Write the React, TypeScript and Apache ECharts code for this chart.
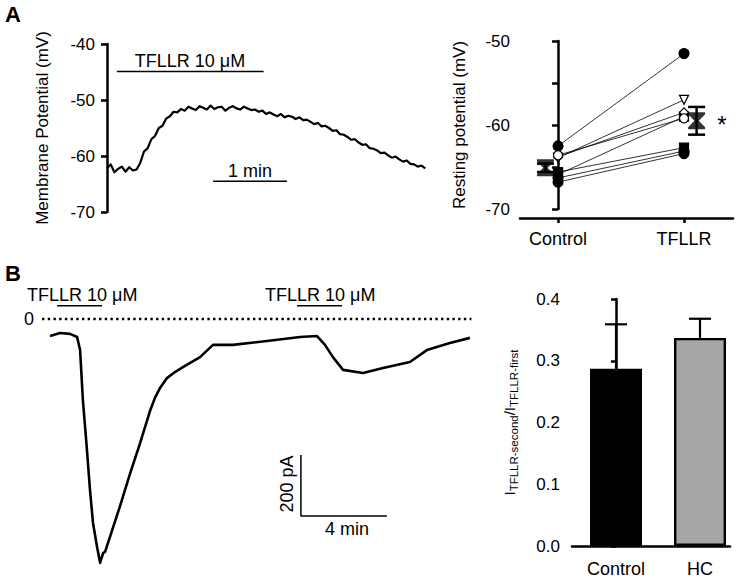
import React, { useEffect, useRef } from 'react';
import * as echarts from 'echarts';

const FONT = '"Liberation Sans", Arial, Helvetica, sans-serif';
const BLACK = '#000000';

// ---------- Panel A (left): membrane potential trace ----------
const traceATime = [
  0, 3, 6, 9, 12, 15, 18, 21, 24, 27, 30, 33, 36, 39, 42, 45, 48, 51, 54, 57,
  60, 63, 66, 69, 72, 75, 78, 81, 84, 87, 90, 93, 96, 99, 102, 105, 108, 111, 114, 117,
  120, 123, 126, 129, 132, 135, 138, 141, 144, 147, 150, 153, 156, 159, 162, 165, 168, 171, 174, 177,
  180, 183, 186, 189, 192, 195, 198, 201, 204, 207, 210, 213, 216, 219, 222, 225, 228, 231, 234, 237,
  240, 243, 246, 249, 252, 255, 258,
];
const traceAPotential = [
  -62.2, -61.5, -62.9, -62.3, -61.9, -62.8, -62.0, -62.6, -62.4,
  -61.2, -59.2, -58.6, -57.0, -56.4, -55.0, -54.6, -53.3, -52.9, -52.1, -52.2,
  -51.6, -51.9, -51.2, -51.5, -51.8, -51.1, -51.4, -51.7, -51.0, -51.6,
  -51.3, -51.2, -51.9, -51.4, -51.1, -51.5, -51.7, -51.2, -51.5, -51.8,
  -51.7, -52.1, -51.9, -52.5, -52.2, -52.6, -52.9, -52.5, -53.1, -52.8,
  -53.0, -53.4, -53.1, -53.6, -53.5, -53.9, -54.3, -54.1, -54.7, -54.6,
  -55.0, -55.5, -55.4, -56.1, -56.2, -56.6, -57.1, -57.0, -57.6, -58.0,
  -57.9, -58.6, -58.7, -59.0, -59.5, -59.4, -59.9, -60.3, -60.1, -60.6,
  -61.0, -60.8, -61.4, -61.5, -61.9, -61.7, -62.2,
];
const applicationA = [8, 127]; // s, TFLLR 10 µM bar
const applicationALevel = -44.9; // mV (bar height)
const scaleBarA = [86, 146]; // s, 1 min
const scaleBarALevel = -64.5;

// ---------- Panel A (right): resting potential pairs ----------
const pairCategories = ['Control', 'TFLLR'];
const subjectControl = [-62.5, -65.9, -63.9, -63.8, -63.6, -65.6, -66.3, -66.8];
const subjectTFLLR = [-51.5, -59.0, -57.0, -58.5, -59.2, -62.7, -63.1, -63.4];
const subjectSymbols = ['circle', 'rect', 'triangle', 'diamond', 'circle', 'rect', 'circle', 'circle'];
const subjectFilled = [true, true, false, false, false, true, true, true];
const meanPositions = [-0.1, 1.1];
const meanValues = [-65.1, -59.5];
const semValues = [0.5, 1.65];

// ---------- Panel B (left): current trace ----------
const traceBTime = [
  0, 0.47, 0.93, 1.26, 1.4, 1.53, 1.72, 1.86, 2.0, 2.19, 2.33, 2.47, 2.56, 2.79, 3.26, 3.72,
  4.19, 4.65, 4.88, 5.12, 5.44, 5.81, 6.28, 6.98, 7.58, 8.51, 10.09, 11.63, 12.42, 12.79, 13.16,
  13.63, 14.56, 15.49, 16.74, 17.53, 18.6, 19.53,
];
const traceBCurrent = [
  -56, -46, -49, -59, -102, -266, -430, -561, -669, -748, -800, -768, -764, -715, -613, -508,
  -407, -302, -259, -226, -194, -174, -154, -125, -85, -85, -72, -59, -56, -85, -125,
  -167, -177, -161, -141, -102, -79, -62,
];
const zeroLineB = [-0.37, 19.6];
const applicationsB = [
  [0.33, 2.42],
  [11.49, 13.58],
];
const applicationBLevel = 43; // pA
const scaleBarB = { t: 11.67, i: -646, dt: 4, di: 200 };

// ---------- Panel B (right): ratio bars ----------
const barCategories = ['Control', 'HC'];
const barValues = [0.287, 0.337];
const barErrors = [0.072, 0.031];
const barColors = ['#000000', '#a6a6a6'];

const hourglass = 'path://M0,0 L10,0 L10,1.2 L6.3,5 L10,8.8 L10,10 L0,10 L0,8.8 L3.7,5 L0,1.2 Z';

function errorBarRender(capHalf: number, lw: number, bottomCap: boolean) {
  return (_params: any, api: any) => {
    const x = api.value(0);
    const lo = api.value(1);
    const hi = api.value(2);
    const a = api.coord([x, lo]);
    const b = api.coord([x, hi]);
    const st = { stroke: BLACK, lineWidth: lw };
    const children: any[] = [
      { type: 'line', shape: { x1: a[0], y1: a[1], x2: b[0], y2: b[1] }, style: st },
      { type: 'line', shape: { x1: b[0] - capHalf, y1: b[1], x2: b[0] + capHalf, y2: b[1] }, style: st },
    ];
    if (bottomCap) {
      children.push({ type: 'line', shape: { x1: a[0] - capHalf, y1: a[1], x2: a[0] + capHalf, y2: a[1] }, style: st });
    }
    return { type: 'group', children };
  };
}

function txt(text: string, x: number, y: number, opts: any = {}) {
  const align = opts.align || 'center';
  const valign = opts.valign || 'middle';
  return {
    type: 'text',
    x,
    y,
    rotation: opts.rotation || 0,
    z: 100,
    style: {
      text,
      font: opts.font || `18px ${FONT}`,
      fill: BLACK,
      align,
      textAlign: align,
      verticalAlign: valign,
      textVerticalAlign: valign,
    },
  };
}

function buildOption(): any {
  const axisLineStyle = { color: BLACK, width: 2.5 };
  const labelStyle = { color: BLACK, fontSize: 17, fontFamily: FONT };
  const catStyle = { color: BLACK, fontSize: 18, fontFamily: FONT };

  const series: any[] = [];

  // A left
  series.push({
    type: 'line', xAxisIndex: 0, yAxisIndex: 0, showSymbol: false, symbol: 'none',
    data: traceATime.map((t, i) => [t, traceAPotential[i]]),
    lineStyle: { color: BLACK, width: 2.2, join: 'round' },
  });
  series.push({
    type: 'line', xAxisIndex: 0, yAxisIndex: 0, symbol: 'none',
    data: applicationA.map((t) => [t, applicationALevel]),
    lineStyle: { color: BLACK, width: 1.5 },
  });
  series.push({
    type: 'line', xAxisIndex: 0, yAxisIndex: 0, symbol: 'none',
    data: scaleBarA.map((t) => [t, scaleBarALevel]),
    lineStyle: { color: BLACK, width: 1.5 },
  });

  // A right: pairs
  subjectControl.forEach((c, i) => {
    const filled = subjectFilled[i];
    const sym = subjectSymbols[i];
    series.push({
      type: 'line', xAxisIndex: 1, yAxisIndex: 1,
      data: [[0, c], [1, subjectTFLLR[i]]],
      symbol: sym,
      symbolRotate: sym === 'triangle' ? 180 : 0,
      symbolSize: sym === 'rect' ? 9 : sym === 'circle' ? (filled ? 10 : 9) : 9,
      lineStyle: { color: BLACK, width: 0.8 },
      itemStyle: { color: filled ? BLACK : '#ffffff', borderColor: BLACK, borderWidth: 1.2 },
      z: 3 + i * 0.01,
    });
  });
  series.push({
    type: 'scatter', xAxisIndex: 1, yAxisIndex: 1,
    data: meanPositions.map((x, i) => [x, meanValues[i]]),
    symbol: hourglass, symbolSize: [17, 17],
    itemStyle: { color: BLACK },
    z: 5,
  });
  series.push({
    type: 'custom', xAxisIndex: 1, yAxisIndex: 1,
    data: meanPositions.map((x, i) => [x, meanValues[i] - semValues[i], meanValues[i] + semValues[i]]),
    encode: { x: 0, y: [1, 2] },
    renderItem: errorBarRender(8.5, 2.5, true),
    z: 5,
  });

  // B left
  series.push({
    type: 'line', xAxisIndex: 2, yAxisIndex: 2, symbol: 'none',
    data: zeroLineB.map((t) => [t, 0]),
    lineStyle: { color: BLACK, width: 2.6, type: [2.4, 3.3] },
  });
  series.push({
    type: 'line', xAxisIndex: 2, yAxisIndex: 2, symbol: 'none',
    data: traceBTime.map((t, i) => [t, traceBCurrent[i]]),
    lineStyle: { color: BLACK, width: 2.6, join: 'round' },
  });
  applicationsB.forEach((a) => {
    series.push({
      type: 'line', xAxisIndex: 2, yAxisIndex: 2, symbol: 'none',
      data: a.map((t) => [t, applicationBLevel]),
      lineStyle: { color: BLACK, width: 1.5 },
    });
  });
  series.push({
    type: 'line', xAxisIndex: 2, yAxisIndex: 2, symbol: 'none',
    data: [
      [scaleBarB.t, scaleBarB.i + scaleBarB.di],
      [scaleBarB.t, scaleBarB.i],
      [scaleBarB.t + scaleBarB.dt, scaleBarB.i],
    ],
    lineStyle: { color: BLACK, width: 1.5 },
  });

  // B right bars
  series.push({
    type: 'bar', xAxisIndex: 3, yAxisIndex: 3, barWidth: 52,
    data: barValues.map((v, i) => ({
      value: [i, v],
      itemStyle: { color: barColors[i], borderColor: BLACK, borderWidth: 2.4 },
    })),
  });
  series.push({
    type: 'custom', xAxisIndex: 3, yAxisIndex: 3,
    data: barValues.map((v, i) => [i, v, v + barErrors[i]]),
    encode: { x: 0, y: [1, 2] },
    renderItem: errorBarRender(11, 2.2, false),
    z: 1,
  });

  return {
    animation: false,
    backgroundColor: '#ffffff',
    textStyle: { fontFamily: FONT },
    grid: [
      { left: 107, top: 44, width: 333, height: 168 },
      { left: 520, top: 41, width: 213, height: 168 },
      { left: 37.1, top: 282.4, width: 434.3, height: 295.7 },
      { left: 572, top: 299, width: 158, height: 247 },
    ],
    xAxis: [
      { gridIndex: 0, type: 'value', min: 0, max: 270, show: false },
      {
        gridIndex: 1, type: 'value', min: -0.302, max: 1.389, offset: 9,
        axisLine: { show: true, lineStyle: axisLineStyle },
        axisTick: { show: true, length: 5, lineStyle: { color: BLACK, width: 2.5 }, customValues: [0, 1] },
        axisLabel: {
          ...catStyle, margin: 12, customValues: [0, 1],
          formatter: (v: number) => pairCategories[Math.round(v)] ?? '',
        },
        splitLine: { show: false },
      },
      { gridIndex: 2, type: 'value', min: -0.6, max: 19.6, show: false },
      {
        gridIndex: 3, type: 'value', min: -0.524, max: 1.357,
        axisLine: { show: true, lineStyle: axisLineStyle },
        axisTick: { show: false },
        axisLabel: {
          ...catStyle, margin: 14, customValues: [0, 1],
          formatter: (v: number) => barCategories[Math.round(v)] ?? '',
        },
        splitLine: { show: false },
      },
    ],
    yAxis: [
      {
        gridIndex: 0, type: 'value', min: -70, max: -40, interval: 10,
        axisLine: { show: true, lineStyle: axisLineStyle },
        axisTick: { show: true, length: 6, lineStyle: { color: BLACK, width: 2.5 } },
        axisLabel: { ...labelStyle, margin: 12 },
        splitLine: { show: false },
        name: 'Membrane Potential (mV)', nameLocation: 'middle', nameRotate: 90, nameGap: 56,
        nameTextStyle: { ...labelStyle },
      },
      {
        gridIndex: 1, type: 'value', min: -70, max: -50, interval: 5,
        axisLine: { show: true, lineStyle: axisLineStyle },
        axisTick: { show: true, length: 6, lineStyle: { color: BLACK, width: 2.5 } },
        axisLabel: { ...labelStyle, margin: 10, formatter: (v: number) => (v % 10 === 0 ? String(v) : '') },
        splitLine: { show: false },
        name: 'Resting potential (mV)', nameLocation: 'middle', nameRotate: 90, nameGap: 52,
        nameTextStyle: { ...labelStyle },
      },
      { gridIndex: 2, type: 'value', min: -850, max: 120, show: false },
      {
        gridIndex: 3, type: 'value', min: 0, max: 0.4, interval: 0.1,
        axisLine: { show: true, lineStyle: axisLineStyle },
        axisTick: { show: true, length: 5, lineStyle: { color: BLACK, width: 2.5 } },
        axisLabel: { ...labelStyle, margin: 12, formatter: (v: number) => v.toFixed(1) },
        splitLine: { show: false },
        name: '{m|I}{s|TFLLR-second}{m|/I}{s|TFLLR-first}',
        nameLocation: 'middle', nameRotate: 90, nameGap: 52,
        nameTextStyle: {
          color: BLACK,
          rich: {
            m: { fontSize: 15, fontFamily: FONT, color: BLACK, lineHeight: 22, verticalAlign: 'middle' },
            s: { fontSize: 11.5, fontFamily: FONT, color: BLACK, verticalAlign: 'bottom' },
          },
        },
      },
    ],
    series,
    graphic: [
      txt('A', 5, 14, { align: 'left', font: `bold 22px ${FONT}` }),
      txt('B', 5, 273, { align: 'left', font: `bold 22px ${FONT}` }),
      txt('TFLLR 10 \u03bcM', 190, 61),
      txt('1 min', 250, 171),
      txt('*', 722, 124, { font: `24px ${FONT}` }),
      txt('TFLLR 10 \u03bcM', 27, 295, { align: 'left' }),
      txt('TFLLR 10 \u03bcM', 265, 295, { align: 'left' }),
      txt('0', 34, 319, { align: 'right' }),
      txt('200 pA', 287, 484, { rotation: Math.PI / 2 }),
      txt('4 min', 347, 529),
    ],
  };
}

export default function App() {
  const ref = useRef<HTMLDivElement>(null);
  useEffect(() => {
    document.body.style.margin = '0';
    const chart = echarts.init(ref.current as HTMLDivElement, null, { renderer: 'svg' });
    chart.setOption(buildOption());
    return () => chart.dispose();
  }, []);
  return <div ref={ref} style={{ width: 750, height: 582 }} />;
}
